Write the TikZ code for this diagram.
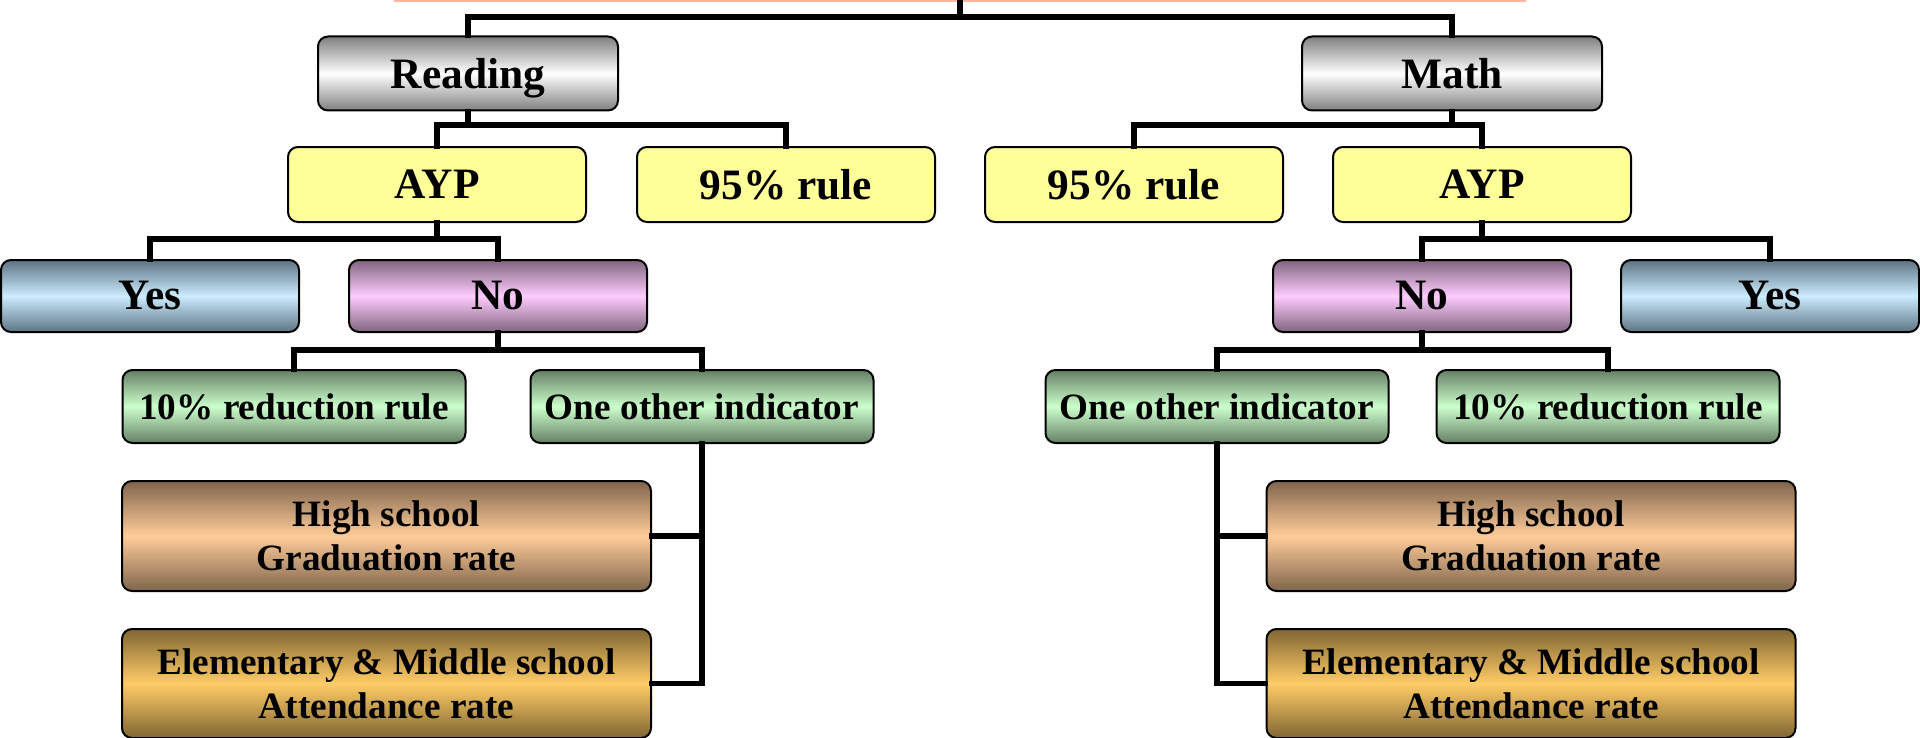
\documentclass[tikz,border=0pt]{standalone}
\usepackage{fontspec}
\setmainfont{Liberation Serif}
\definecolor{salmonline}{HTML}{FFB4A0}
\definecolor{metaledge}{HTML}{7F7F7F}
\definecolor{rulefill}{HTML}{FFFF99}
\definecolor{yesedge}{HTML}{5C7482}
\definecolor{yesmid}{HTML}{CCECFF}
\definecolor{noedge}{HTML}{80647F}
\definecolor{nomid}{HTML}{FFCCFF}
\definecolor{greenedge}{HTML}{657F65}
\definecolor{greenmid}{HTML}{CCFFCC}
\definecolor{gradedge}{HTML}{7F654C}
\definecolor{gradmid}{HTML}{FFCC99}
\definecolor{attedge}{HTML}{806633}
\definecolor{attmid}{HTML}{FFCC66}
\begin{document}
\begin{tikzpicture}[x=0.5pt,y=-0.5pt,
  box/.style={draw=black, line width=1pt, rounded corners=5pt, inner sep=0pt,
    align=center, font=\bfseries\fontsize{18.6}{22}\selectfont},
  big/.style={font=\bfseries\fontsize{21.7}{26}\selectfont},
  shade3/.style 2 args={top color=#1, bottom color=#1, middle color=#2},
  subject/.style={box, shade3={metaledge}{white}, big, text height=15pt, text depth=0pt,
    minimum width=150pt, minimum height=37pt},
  ruleset/.style={box, fill=rulefill, big, minimum width=149pt, minimum height=37.5pt},
  yesbox/.style={box, shade3={yesedge}{yesmid}, big, minimum width=149pt, minimum height=36pt},
  nobox/.style={box, shade3={noedge}{nomid}, big, minimum width=149pt, minimum height=36pt},
  optbox/.style={box, shade3={greenedge}{greenmid}, minimum width=171.5pt, minimum height=36.5pt},
  gradbox/.style={box, shade3={gradedge}{gradmid}, minimum width=264.5pt, minimum height=55pt},
  attbox/.style={box, shade3={attedge}{attmid}, minimum width=264.5pt, minimum height=54.5pt},
  conn/.style={line width=2.7pt, line join=miter, line cap=rect}
]
\useasboundingbox (0,0) rectangle (1920,738);

% bus levels
\coordinate (y0) at (0,17);
\coordinate (y1) at (0,125);
\coordinate (y2) at (0,239);
\coordinate (y3) at (0,350);

% partly visible parent box above the frame
\node[draw=salmonline, line width=0.8pt, fill=white, minimum width=565pt, minimum height=50pt, inner sep=0pt] (top) at (960,-49) {};

% first level
\node[subject] (reading) at (468,73.5) {Reading};
\node[subject] (math) at (1452,73.5) {Math};

% second level
\node[ruleset] (aypL) at (437,184.5) {AYP};
\node[ruleset] (ruleL) at (786,184.5) {95\% rule};
\node[ruleset] (ruleR) at (1134,184.5) {95\% rule};
\node[ruleset] (aypR) at (1482,184.5) {AYP};

% third level
\node[yesbox] (yesL) at (150,296) {Yes};
\node[nobox] (noL) at (498,296) {No};
\node[nobox] (noR) at (1422,296) {No};
\node[yesbox] (yesR) at (1770,296) {Yes};

% fourth level
\node[optbox] (tenL) at (294,406.5) {10\% reduction rule};
\node[optbox] (oneL) at (702,406.5) {One other indicator};
\node[optbox] (oneR) at (1217,406.5) {One other indicator};
\node[optbox] (tenR) at (1608,406.5) {10\% reduction rule};

% indicators
\node[gradbox] (gradL) at (386.5,536) {High school\\Graduation rate};
\node[attbox] (attL) at (386.5,683.5) {Elementary \& Middle school\\Attendance rate};
\node[gradbox] (gradR) at (1531,536) {High school\\Graduation rate};
\node[attbox] (attR) at (1531,683.5) {Elementary \& Middle school\\Attendance rate};

% connectors
\draw[conn] (top.south) -- (top.south |- y0);
\draw[conn] (reading.north) -- (reading.north |- y0) -- (math.north |- y0) -- (math.north);

\draw[conn] (reading.south) -- (reading.south |- y1);
\draw[conn] (aypL.north) -- (aypL.north |- y1) -- (ruleL.north |- y1) -- (ruleL.north);
\draw[conn] (math.south) -- (math.south |- y1);
\draw[conn] (ruleR.north) -- (ruleR.north |- y1) -- (aypR.north |- y1) -- (aypR.north);

\draw[conn] (aypL.south) -- (aypL.south |- y2);
\draw[conn] (yesL.north) -- (yesL.north |- y2) -- (noL.north |- y2) -- (noL.north);
\draw[conn] (aypR.south) -- (aypR.south |- y2);
\draw[conn] (noR.north) -- (noR.north |- y2) -- (yesR.north |- y2) -- (yesR.north);

\draw[conn] (noL.south) -- (noL.south |- y3);
\draw[conn] (tenL.north) -- (tenL.north |- y3) -- (oneL.north |- y3) -- (oneL.north);
\draw[conn] (noR.south) -- (noR.south |- y3);
\draw[conn] (oneR.north) -- (oneR.north |- y3) -- (tenR.north |- y3) -- (tenR.north);

\draw[conn] (oneL.south) -- (oneL.south |- attL.east) -- (attL.east);
\draw[conn] (oneL.south |- gradL.east) -- (gradL.east);
\draw[conn] (oneR.south) -- (oneR.south |- attR.west) -- (attR.west);
\draw[conn] (oneR.south |- gradR.west) -- (gradR.west);
\end{tikzpicture}
\end{document}
